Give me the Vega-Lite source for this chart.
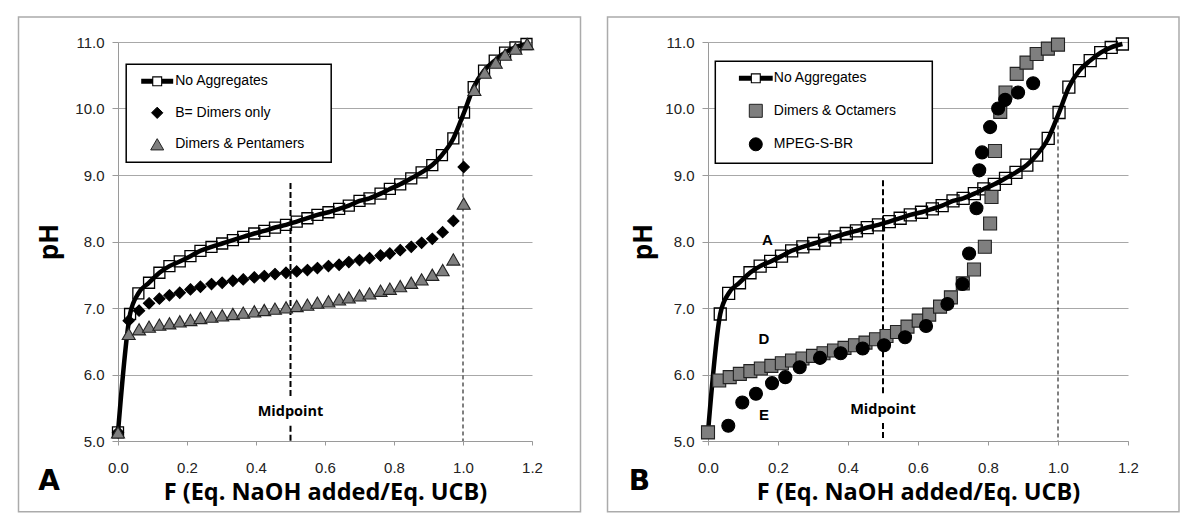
{
  "$schema": "https://vega.github.io/schema/vega-lite/v6.json",
  "padding": {"left": 17, "top": 16, "right": 5, "bottom": 5},
  "background": "white",
  "config": {"view": {"stroke": null}, "font": "Liberation Sans", "legend": {"strokeWidth": 1.5}},
  "spacing": 176,
  "bounds": "flush",
  "resolve": {"scale": {"x": "independent", "y": "independent", "shape": "independent", "fill": "independent", "stroke": "independent"}, "legend": {"shape": "independent", "fill": "independent", "stroke": "independent"}},
  "datasets": {
    "noagg": [
      {"series": "No Aggregates", "F": 0, "pH": 5.13},
      {"series": "No Aggregates", "F": 0.035, "pH": 6.91},
      {"series": "No Aggregates", "F": 0.059, "pH": 7.22},
      {"series": "No Aggregates", "F": 0.09, "pH": 7.38},
      {"series": "No Aggregates", "F": 0.12, "pH": 7.53},
      {"series": "No Aggregates", "F": 0.149, "pH": 7.63},
      {"series": "No Aggregates", "F": 0.179, "pH": 7.7},
      {"series": "No Aggregates", "F": 0.21, "pH": 7.78},
      {"series": "No Aggregates", "F": 0.239, "pH": 7.86},
      {"series": "No Aggregates", "F": 0.271, "pH": 7.92},
      {"series": "No Aggregates", "F": 0.302, "pH": 7.97},
      {"series": "No Aggregates", "F": 0.333, "pH": 8.02},
      {"series": "No Aggregates", "F": 0.363, "pH": 8.07},
      {"series": "No Aggregates", "F": 0.395, "pH": 8.12},
      {"series": "No Aggregates", "F": 0.424, "pH": 8.16},
      {"series": "No Aggregates", "F": 0.455, "pH": 8.21},
      {"series": "No Aggregates", "F": 0.487, "pH": 8.25},
      {"series": "No Aggregates", "F": 0.518, "pH": 8.3},
      {"series": "No Aggregates", "F": 0.549, "pH": 8.35},
      {"series": "No Aggregates", "F": 0.578, "pH": 8.4},
      {"series": "No Aggregates", "F": 0.61, "pH": 8.44},
      {"series": "No Aggregates", "F": 0.641, "pH": 8.49},
      {"series": "No Aggregates", "F": 0.669, "pH": 8.54},
      {"series": "No Aggregates", "F": 0.7, "pH": 8.61},
      {"series": "No Aggregates", "F": 0.729, "pH": 8.65},
      {"series": "No Aggregates", "F": 0.761, "pH": 8.72},
      {"series": "No Aggregates", "F": 0.788, "pH": 8.79},
      {"series": "No Aggregates", "F": 0.818, "pH": 8.86},
      {"series": "No Aggregates", "F": 0.85, "pH": 8.95},
      {"series": "No Aggregates", "F": 0.88, "pH": 9.04},
      {"series": "No Aggregates", "F": 0.911, "pH": 9.15},
      {"series": "No Aggregates", "F": 0.939, "pH": 9.3},
      {"series": "No Aggregates", "F": 0.972, "pH": 9.55},
      {"series": "No Aggregates", "F": 1.003, "pH": 9.94},
      {"series": "No Aggregates", "F": 1.031, "pH": 10.32},
      {"series": "No Aggregates", "F": 1.061, "pH": 10.57},
      {"series": "No Aggregates", "F": 1.092, "pH": 10.72},
      {"series": "No Aggregates", "F": 1.122, "pH": 10.84},
      {"series": "No Aggregates", "F": 1.152, "pH": 10.92},
      {"series": "No Aggregates", "F": 1.184, "pH": 10.97}
    ],
    "pA": [
      {"series": "B= Dimers only", "F": 0, "pH": 5.13},
      {"series": "B= Dimers only", "F": 0.031, "pH": 6.81},
      {"series": "B= Dimers only", "F": 0.061, "pH": 6.96},
      {"series": "B= Dimers only", "F": 0.09, "pH": 7.07},
      {"series": "B= Dimers only", "F": 0.12, "pH": 7.14},
      {"series": "B= Dimers only", "F": 0.149, "pH": 7.19},
      {"series": "B= Dimers only", "F": 0.179, "pH": 7.23},
      {"series": "B= Dimers only", "F": 0.21, "pH": 7.28},
      {"series": "B= Dimers only", "F": 0.239, "pH": 7.32},
      {"series": "B= Dimers only", "F": 0.271, "pH": 7.36},
      {"series": "B= Dimers only", "F": 0.302, "pH": 7.38},
      {"series": "B= Dimers only", "F": 0.333, "pH": 7.41},
      {"series": "B= Dimers only", "F": 0.363, "pH": 7.43},
      {"series": "B= Dimers only", "F": 0.395, "pH": 7.46},
      {"series": "B= Dimers only", "F": 0.424, "pH": 7.48},
      {"series": "B= Dimers only", "F": 0.455, "pH": 7.51},
      {"series": "B= Dimers only", "F": 0.487, "pH": 7.53},
      {"series": "B= Dimers only", "F": 0.518, "pH": 7.55},
      {"series": "B= Dimers only", "F": 0.549, "pH": 7.57},
      {"series": "B= Dimers only", "F": 0.578, "pH": 7.6},
      {"series": "B= Dimers only", "F": 0.61, "pH": 7.63},
      {"series": "B= Dimers only", "F": 0.641, "pH": 7.65},
      {"series": "B= Dimers only", "F": 0.669, "pH": 7.69},
      {"series": "B= Dimers only", "F": 0.7, "pH": 7.72},
      {"series": "B= Dimers only", "F": 0.729, "pH": 7.75},
      {"series": "B= Dimers only", "F": 0.761, "pH": 7.79},
      {"series": "B= Dimers only", "F": 0.788, "pH": 7.82},
      {"series": "B= Dimers only", "F": 0.818, "pH": 7.87},
      {"series": "B= Dimers only", "F": 0.85, "pH": 7.92},
      {"series": "B= Dimers only", "F": 0.88, "pH": 7.98},
      {"series": "B= Dimers only", "F": 0.911, "pH": 8.04},
      {"series": "B= Dimers only", "F": 0.941, "pH": 8.14},
      {"series": "B= Dimers only", "F": 0.972, "pH": 8.31},
      {"series": "B= Dimers only", "F": 1.002, "pH": 9.12},
      {"series": "Dimers & Pentamers", "F": 0, "pH": 5.13},
      {"series": "Dimers & Pentamers", "F": 0.031, "pH": 6.61},
      {"series": "Dimers & Pentamers", "F": 0.061, "pH": 6.68},
      {"series": "Dimers & Pentamers", "F": 0.09, "pH": 6.72},
      {"series": "Dimers & Pentamers", "F": 0.12, "pH": 6.75},
      {"series": "Dimers & Pentamers", "F": 0.149, "pH": 6.77},
      {"series": "Dimers & Pentamers", "F": 0.179, "pH": 6.8},
      {"series": "Dimers & Pentamers", "F": 0.21, "pH": 6.82},
      {"series": "Dimers & Pentamers", "F": 0.239, "pH": 6.85},
      {"series": "Dimers & Pentamers", "F": 0.271, "pH": 6.87},
      {"series": "Dimers & Pentamers", "F": 0.302, "pH": 6.89},
      {"series": "Dimers & Pentamers", "F": 0.333, "pH": 6.91},
      {"series": "Dimers & Pentamers", "F": 0.363, "pH": 6.93},
      {"series": "Dimers & Pentamers", "F": 0.395, "pH": 6.95},
      {"series": "Dimers & Pentamers", "F": 0.424, "pH": 6.97},
      {"series": "Dimers & Pentamers", "F": 0.455, "pH": 6.99},
      {"series": "Dimers & Pentamers", "F": 0.487, "pH": 7.01},
      {"series": "Dimers & Pentamers", "F": 0.518, "pH": 7.03},
      {"series": "Dimers & Pentamers", "F": 0.549, "pH": 7.05},
      {"series": "Dimers & Pentamers", "F": 0.578, "pH": 7.08},
      {"series": "Dimers & Pentamers", "F": 0.61, "pH": 7.1},
      {"series": "Dimers & Pentamers", "F": 0.641, "pH": 7.13},
      {"series": "Dimers & Pentamers", "F": 0.669, "pH": 7.16},
      {"series": "Dimers & Pentamers", "F": 0.7, "pH": 7.19},
      {"series": "Dimers & Pentamers", "F": 0.729, "pH": 7.22},
      {"series": "Dimers & Pentamers", "F": 0.761, "pH": 7.26},
      {"series": "Dimers & Pentamers", "F": 0.788, "pH": 7.29},
      {"series": "Dimers & Pentamers", "F": 0.818, "pH": 7.33},
      {"series": "Dimers & Pentamers", "F": 0.85, "pH": 7.38},
      {"series": "Dimers & Pentamers", "F": 0.88, "pH": 7.43},
      {"series": "Dimers & Pentamers", "F": 0.911, "pH": 7.5},
      {"series": "Dimers & Pentamers", "F": 0.941, "pH": 7.57},
      {"series": "Dimers & Pentamers", "F": 0.972, "pH": 7.73},
      {"series": "Dimers & Pentamers", "F": 1.002, "pH": 8.57},
      {"series": "Dimers & Pentamers", "F": 1.033, "pH": 10.28},
      {"series": "Dimers & Pentamers", "F": 1.063, "pH": 10.54},
      {"series": "Dimers & Pentamers", "F": 1.095, "pH": 10.69},
      {"series": "Dimers & Pentamers", "F": 1.122, "pH": 10.81},
      {"series": "Dimers & Pentamers", "F": 1.152, "pH": 10.9},
      {"series": "Dimers & Pentamers", "F": 1.186, "pH": 10.97}
    ],
    "pB": [
      {"series": "Dimers & Octamers", "F": 0, "pH": 5.13},
      {"series": "Dimers & Octamers", "F": 0.032, "pH": 5.91},
      {"series": "Dimers & Octamers", "F": 0.062, "pH": 5.96},
      {"series": "Dimers & Octamers", "F": 0.091, "pH": 6.01},
      {"series": "Dimers & Octamers", "F": 0.121, "pH": 6.05},
      {"series": "Dimers & Octamers", "F": 0.151, "pH": 6.09},
      {"series": "Dimers & Octamers", "F": 0.181, "pH": 6.13},
      {"series": "Dimers & Octamers", "F": 0.211, "pH": 6.17},
      {"series": "Dimers & Octamers", "F": 0.24, "pH": 6.21},
      {"series": "Dimers & Octamers", "F": 0.27, "pH": 6.24},
      {"series": "Dimers & Octamers", "F": 0.3, "pH": 6.28},
      {"series": "Dimers & Octamers", "F": 0.33, "pH": 6.32},
      {"series": "Dimers & Octamers", "F": 0.36, "pH": 6.36},
      {"series": "Dimers & Octamers", "F": 0.39, "pH": 6.4},
      {"series": "Dimers & Octamers", "F": 0.42, "pH": 6.44},
      {"series": "Dimers & Octamers", "F": 0.45, "pH": 6.48},
      {"series": "Dimers & Octamers", "F": 0.48, "pH": 6.53},
      {"series": "Dimers & Octamers", "F": 0.51, "pH": 6.58},
      {"series": "Dimers & Octamers", "F": 0.54, "pH": 6.64},
      {"series": "Dimers & Octamers", "F": 0.57, "pH": 6.72},
      {"series": "Dimers & Octamers", "F": 0.602, "pH": 6.81},
      {"series": "Dimers & Octamers", "F": 0.632, "pH": 6.9},
      {"series": "Dimers & Octamers", "F": 0.663, "pH": 7.02},
      {"series": "Dimers & Octamers", "F": 0.694, "pH": 7.16},
      {"series": "Dimers & Octamers", "F": 0.728, "pH": 7.37},
      {"series": "Dimers & Octamers", "F": 0.76, "pH": 7.58},
      {"series": "Dimers & Octamers", "F": 0.791, "pH": 7.92},
      {"series": "Dimers & Octamers", "F": 0.806, "pH": 8.27},
      {"series": "Dimers & Octamers", "F": 0.81, "pH": 8.67},
      {"series": "Dimers & Octamers", "F": 0.82, "pH": 9.36},
      {"series": "Dimers & Octamers", "F": 0.835, "pH": 9.95},
      {"series": "Dimers & Octamers", "F": 0.85, "pH": 10.24},
      {"series": "Dimers & Octamers", "F": 0.882, "pH": 10.52},
      {"series": "Dimers & Octamers", "F": 0.91, "pH": 10.69},
      {"series": "Dimers & Octamers", "F": 0.939, "pH": 10.82},
      {"series": "Dimers & Octamers", "F": 0.971, "pH": 10.9},
      {"series": "Dimers & Octamers", "F": 1.0, "pH": 10.96},
      {"series": "MPEG-S-BR", "F": 0.058, "pH": 5.23},
      {"series": "MPEG-S-BR", "F": 0.098, "pH": 5.58},
      {"series": "MPEG-S-BR", "F": 0.137, "pH": 5.71},
      {"series": "MPEG-S-BR", "F": 0.183, "pH": 5.87},
      {"series": "MPEG-S-BR", "F": 0.221, "pH": 5.96},
      {"series": "MPEG-S-BR", "F": 0.262, "pH": 6.11},
      {"series": "MPEG-S-BR", "F": 0.32, "pH": 6.25},
      {"series": "MPEG-S-BR", "F": 0.379, "pH": 6.32},
      {"series": "MPEG-S-BR", "F": 0.442, "pH": 6.39},
      {"series": "MPEG-S-BR", "F": 0.503, "pH": 6.44},
      {"series": "MPEG-S-BR", "F": 0.563, "pH": 6.56},
      {"series": "MPEG-S-BR", "F": 0.623, "pH": 6.73},
      {"series": "MPEG-S-BR", "F": 0.684, "pH": 7.06},
      {"series": "MPEG-S-BR", "F": 0.727, "pH": 7.36},
      {"series": "MPEG-S-BR", "F": 0.746, "pH": 7.82},
      {"series": "MPEG-S-BR", "F": 0.767, "pH": 8.5},
      {"series": "MPEG-S-BR", "F": 0.775, "pH": 9.07},
      {"series": "MPEG-S-BR", "F": 0.783, "pH": 9.34},
      {"series": "MPEG-S-BR", "F": 0.806, "pH": 9.72},
      {"series": "MPEG-S-BR", "F": 0.829, "pH": 10.0},
      {"series": "MPEG-S-BR", "F": 0.849, "pH": 10.13},
      {"series": "MPEG-S-BR", "F": 0.886, "pH": 10.24},
      {"series": "MPEG-S-BR", "F": 0.929, "pH": 10.38}
    ]
  },
  "hconcat": [
    {
      "width": 414,
      "height": 399,
      "layer": [
        {
          "data": {"values": [{"panel": "A"}]},
          "mark": {"type": "rect", "filled": false, "stroke": "#ababab", "strokeWidth": 1.5},
          "encoding": {
            "x": {"datum": -0.2884, "type": "quantitative", "scale": {"domain": [0, 1.2], "nice": false, "zero": false},
              "axis": {"title": "F (Eq. NaOH added/Eq. UCB)", "titleFont": "Open Sans", "titleFontSize": 23.5, "titleFontWeight": "bold", "titleColor": "black", "titlePadding": 5,
                "values": [0, 0.1, 0.2, 0.3, 0.4, 0.5, 0.6, 0.7, 0.8, 0.9, 1.0, 1.1, 1.2],
                "labelExpr": "round(datum.value * 10) % 2 === 0 ? format(datum.value, '.1f') : ''",
                "labelFont": "Liberation Sans", "labelFontSize": 15, "labelColor": "#222", "labelPadding": 15, "labelFlush": false, "labelOverlap": false,
                "tickSize": 4, "tickColor": "#9a9a9a", "domainColor": "#9a9a9a", "grid": false}},
            "x2": {"datum": 1.3406},
            "y": {"datum": 11.376, "type": "quantitative", "scale": {"domain": [5, 11], "nice": false, "zero": false},
              "axis": {"title": "pH", "titleFont": "Open Sans", "titleFontSize": 26, "titleFontWeight": "bold", "titleColor": "black", "titlePadding": 12,
                "values": [5, 5.5, 6, 6.5, 7, 7.5, 8, 8.5, 9, 9.5, 10, 10.5, 11],
                "labelExpr": "datum.value % 1 === 0 ? format(datum.value, '.1f') : ''",
                "labelFont": "Liberation Sans", "labelFontSize": 15, "labelColor": "#222", "labelPadding": 8, "labelFlush": false, "labelOverlap": false,
                "tickSize": 6, "tickColor": "#9a9a9a", "domainColor": "#9a9a9a", "grid": true, "gridColor": "#a8a8a8",
                "gridOpacity": {"condition": {"test": "datum.value % 1 === 0", "value": 1}, "value": 0}}},
            "y2": {"datum": 3.937}
          }
        },
        {
          "data": {"values": [
            {"x": 0.5, "y1": 8.88, "y2": 5.67},
            {"x": 0.5, "y1": 5.23, "y2": 5.0}
          ]},
          "mark": {"type": "rule", "color": "black", "strokeWidth": 2, "strokeDash": [6, 3]},
          "encoding": {
            "x": {"field": "x", "type": "quantitative", "scale": {"domain": [0, 1.2]}},
            "y": {"field": "y1", "type": "quantitative", "scale": {"domain": [5, 11]}},
            "y2": {"field": "y2"}
          }
        },
        {
          "data": {"values": [{"x": 1.0, "y1": 9.88, "y2": 5.0}]},
          "mark": {"type": "rule", "color": "black", "strokeWidth": 1, "strokeDash": [4, 3]},
          "encoding": {
            "x": {"field": "x", "type": "quantitative", "scale": {"domain": [0, 1.2]}},
            "y": {"field": "y1", "type": "quantitative", "scale": {"domain": [5, 11]}},
            "y2": {"field": "y2"}
          }
        },
        {
          "data": {"name": "noagg"},
          "mark": {"type": "line", "color": "black", "strokeWidth": 4.5, "interpolate": "monotone"},
          "encoding": {
            "x": {"field": "F", "type": "quantitative", "scale": {"domain": [0, 1.2]}},
            "y": {"field": "pH", "type": "quantitative", "scale": {"domain": [5, 11]}}
          }
        },
        {
          "data": {"name": "noagg"},
          "mark": {"type": "point", "shape": "square", "filled": false, "stroke": "black", "strokeWidth": 1.3, "size": 121, "opacity": 1},
          "encoding": {
            "x": {"field": "F", "type": "quantitative", "scale": {"domain": [0, 1.2]}},
            "y": {"field": "pH", "type": "quantitative", "scale": {"domain": [5, 11]}}
          }
        },
        {
          "data": {"name": "pA"},
          "mark": {"type": "point", "size": 169, "strokeWidth": 1.1, "opacity": 1},
          "encoding": {
            "x": {"field": "F", "type": "quantitative", "scale": {"domain": [0, 1.2]}},
            "y": {"field": "pH", "type": "quantitative", "scale": {"domain": [5, 11]}},
            "shape": {"field": "series", "type": "nominal",
              "scale": {"domain": ["No Aggregates", "B= Dimers only", "Dimers & Pentamers"],
                "range": ["M-2.46,-0.38H-0.77V0.38H-2.46Z M0.77,-0.38H2.46V0.38H0.77Z M-0.77,-0.77H0.77V0.77H-0.77Z M-0.6,-0.6V0.6H0.6V-0.6Z", "M0,-0.87L0.87,0L0,0.87L-0.87,0Z", "triangle-up"]},
              "legend": {"orient": "none", "legendX": 8.2, "legendY": 22.3, "title": "\u00a0", "titleOrient": "right", "titleFontSize": 4, "titlePadding": 17,
                "strokeColor": "black", "fillColor": "white", "padding": 10,
                "symbolSize": 169, "symbolStrokeWidth": 1, "symbolOffset": 14, "labelOffset": 11, "rowPadding": 15.5,
                "labelFont": "Liberation Sans", "labelFontSize": 14, "labelColor": "black", "labelLimit": 400}},
            "fill": {"field": "series", "type": "nominal",
              "scale": {"domain": ["No Aggregates", "B= Dimers only", "Dimers & Pentamers"], "range": ["black", "black", "#7f7f7f"]},
              "legend": {"orient": "none", "legendX": 8.2, "legendY": 22.3, "title": "\u00a0", "titleOrient": "right", "titleFontSize": 4, "titlePadding": 17,
                "strokeColor": "black", "fillColor": "white", "padding": 10,
                "symbolSize": 169, "symbolStrokeWidth": 1, "symbolOffset": 14, "labelOffset": 11, "rowPadding": 15.5,
                "labelFont": "Liberation Sans", "labelFontSize": 14, "labelColor": "black", "labelLimit": 400}},
            "stroke": {"field": "series", "type": "nominal",
              "scale": {"domain": ["No Aggregates", "B= Dimers only", "Dimers & Pentamers"], "range": ["transparent", "black", "#222222"]},
              "legend": {"orient": "none", "legendX": 8.2, "legendY": 22.3, "title": "\u00a0", "titleOrient": "right", "titleFontSize": 4, "titlePadding": 17,
                "strokeColor": "black", "fillColor": "white", "padding": 10,
                "symbolSize": 169, "symbolStrokeWidth": 1, "symbolOffset": 14, "labelOffset": 11, "rowPadding": 15.5,
                "labelFont": "Liberation Sans", "labelFontSize": 14, "labelColor": "black", "labelLimit": 400}}
          }
        },
        {
          "data": {"values": [{"label": "Midpoint", "F": 0.5, "pH": 5.44}]},
          "mark": {"type": "text", "font": "Open Sans", "fontWeight": "bold", "fontSize": 14.5, "color": "black", "align": "center", "baseline": "middle"},
          "encoding": {
            "x": {"field": "F", "type": "quantitative", "scale": {"domain": [0, 1.2]}},
            "y": {"field": "pH", "type": "quantitative", "scale": {"domain": [5, 11]}},
            "text": {"field": "label"}
          }
        },
        {
          "data": {"values": [{"label": "A"}]},
          "mark": {"type": "text", "font": "DejaVu Sans", "fontWeight": "bold", "fontSize": 28, "color": "black", "align": "center", "baseline": "middle"},
          "encoding": {
            "x": {"datum": -0.2, "type": "quantitative", "scale": {"domain": [0, 1.2]}},
            "y": {"datum": 4.376, "type": "quantitative", "scale": {"domain": [5, 11]}},
            "text": {"field": "label"}
          }
        }
      ]
    },
    {
      "width": 420,
      "height": 399,
      "layer": [
        {
          "data": {"values": [{"panel": "B"}]},
          "mark": {"type": "rect", "filled": false, "stroke": "#ababab", "strokeWidth": 1.5},
          "encoding": {
            "x": {"datum": -0.2871, "type": "quantitative", "scale": {"domain": [0, 1.2], "nice": false, "zero": false},
              "axis": {"title": "F (Eq. NaOH added/Eq. UCB)", "titleFont": "Open Sans", "titleFontSize": 23.5, "titleFontWeight": "bold", "titleColor": "black", "titlePadding": 5,
                "values": [0, 0.1, 0.2, 0.3, 0.4, 0.5, 0.6, 0.7, 0.8, 0.9, 1.0, 1.1, 1.2],
                "labelExpr": "round(datum.value * 10) % 2 === 0 ? format(datum.value, '.1f') : ''",
                "labelFont": "Liberation Sans", "labelFontSize": 15, "labelColor": "#222", "labelPadding": 15, "labelFlush": false, "labelOverlap": false,
                "tickSize": 4, "tickColor": "#9a9a9a", "domainColor": "#9a9a9a", "grid": false}},
            "x2": {"datum": 1.3457},
            "y": {"datum": 11.376, "type": "quantitative", "scale": {"domain": [5, 11], "nice": false, "zero": false},
              "axis": {"title": "pH", "titleFont": "Open Sans", "titleFontSize": 26, "titleFontWeight": "bold", "titleColor": "black", "titlePadding": 8,
                "values": [5, 5.5, 6, 6.5, 7, 7.5, 8, 8.5, 9, 9.5, 10, 10.5, 11],
                "labelExpr": "datum.value % 1 === 0 ? format(datum.value, '.1f') : ''",
                "labelFont": "Liberation Sans", "labelFontSize": 15, "labelColor": "#222", "labelPadding": 8, "labelFlush": false, "labelOverlap": false,
                "tickSize": 6, "tickColor": "#9a9a9a", "domainColor": "#9a9a9a", "grid": true, "gridColor": "#a8a8a8",
                "gridOpacity": {"condition": {"test": "datum.value % 1 === 0", "value": 1}, "value": 0}}},
            "y2": {"datum": 3.937}
          }
        },
        {
          "data": {"values": [
            {"x": 0.5, "y1": 8.92, "y2": 5.69},
            {"x": 0.5, "y1": 5.27, "y2": 5.0}
          ]},
          "mark": {"type": "rule", "color": "black", "strokeWidth": 2, "strokeDash": [6, 3]},
          "encoding": {
            "x": {"field": "x", "type": "quantitative", "scale": {"domain": [0, 1.2]}},
            "y": {"field": "y1", "type": "quantitative", "scale": {"domain": [5, 11]}},
            "y2": {"field": "y2"}
          }
        },
        {
          "data": {"values": [{"x": 1.0, "y1": 9.85, "y2": 5.0}]},
          "mark": {"type": "rule", "color": "black", "strokeWidth": 1, "strokeDash": [4, 3]},
          "encoding": {
            "x": {"field": "x", "type": "quantitative", "scale": {"domain": [0, 1.2]}},
            "y": {"field": "y1", "type": "quantitative", "scale": {"domain": [5, 11]}},
            "y2": {"field": "y2"}
          }
        },
        {
          "data": {"name": "noagg"},
          "mark": {"type": "line", "color": "black", "strokeWidth": 4.5, "interpolate": "monotone"},
          "encoding": {
            "x": {"field": "F", "type": "quantitative", "scale": {"domain": [0, 1.2]}},
            "y": {"field": "pH", "type": "quantitative", "scale": {"domain": [5, 11]}}
          }
        },
        {
          "data": {"name": "noagg"},
          "mark": {"type": "point", "shape": "square", "filled": false, "stroke": "black", "strokeWidth": 1.3, "size": 144, "opacity": 1},
          "encoding": {
            "x": {"field": "F", "type": "quantitative", "scale": {"domain": [0, 1.2]}},
            "y": {"field": "pH", "type": "quantitative", "scale": {"domain": [5, 11]}}
          }
        },
        {
          "data": {"name": "pB"},
          "mark": {"type": "point", "size": 169, "strokeWidth": 1.1, "opacity": 1},
          "encoding": {
            "x": {"field": "F", "type": "quantitative", "scale": {"domain": [0, 1.2]}},
            "y": {"field": "pH", "type": "quantitative", "scale": {"domain": [5, 11]}},
            "shape": {"field": "series", "type": "nominal",
              "scale": {"domain": ["No Aggregates", "Dimers & Octamers", "MPEG-S-BR"],
                "range": ["M-2.6,-0.38H-0.77V0.38H-2.6Z M0.77,-0.38H2.6V0.38H0.77Z M-0.77,-0.77H0.77V0.77H-0.77Z M-0.6,-0.6V0.6H0.6V-0.6Z", "square", "circle"]},
              "legend": {"orient": "none", "legendX": 7.3, "legendY": 19.3, "title": "\u00a0", "titleOrient": "right", "titleFontSize": 4, "titlePadding": 26,
                "strokeColor": "black", "fillColor": "white", "padding": 10,
                "symbolSize": 169, "symbolStrokeWidth": 1, "symbolOffset": 23.5, "labelOffset": 11, "rowPadding": 15.5,
                "labelFont": "Liberation Sans", "labelFontSize": 14, "labelColor": "black", "labelLimit": 400}},
            "fill": {"field": "series", "type": "nominal",
              "scale": {"domain": ["No Aggregates", "Dimers & Octamers", "MPEG-S-BR"], "range": ["black", "#7f7f7f", "black"]},
              "legend": {"orient": "none", "legendX": 7.3, "legendY": 19.3, "title": "\u00a0", "titleOrient": "right", "titleFontSize": 4, "titlePadding": 26,
                "strokeColor": "black", "fillColor": "white", "padding": 10,
                "symbolSize": 169, "symbolStrokeWidth": 1, "symbolOffset": 23.5, "labelOffset": 11, "rowPadding": 15.5,
                "labelFont": "Liberation Sans", "labelFontSize": 14, "labelColor": "black", "labelLimit": 400}},
            "stroke": {"field": "series", "type": "nominal",
              "scale": {"domain": ["No Aggregates", "Dimers & Octamers", "MPEG-S-BR"], "range": ["transparent", "#222222", "black"]},
              "legend": {"orient": "none", "legendX": 7.3, "legendY": 19.3, "title": "\u00a0", "titleOrient": "right", "titleFontSize": 4, "titlePadding": 26,
                "strokeColor": "black", "fillColor": "white", "padding": 10,
                "symbolSize": 169, "symbolStrokeWidth": 1, "symbolOffset": 23.5, "labelOffset": 11, "rowPadding": 15.5,
                "labelFont": "Liberation Sans", "labelFontSize": 14, "labelColor": "black", "labelLimit": 400}}
          }
        },
        {
          "data": {"values": [{"label": "Midpoint", "F": 0.5, "pH": 5.47}]},
          "mark": {"type": "text", "font": "Open Sans", "fontWeight": "bold", "fontSize": 14.5, "color": "black", "align": "center", "baseline": "middle"},
          "encoding": {
            "x": {"field": "F", "type": "quantitative", "scale": {"domain": [0, 1.2]}},
            "y": {"field": "pH", "type": "quantitative", "scale": {"domain": [5, 11]}},
            "text": {"field": "label"}
          }
        },
        {
          "data": {"values": [
            {"label": "A", "F": 0.17, "pH": 8.03},
            {"label": "D", "F": 0.16, "pH": 6.53},
            {"label": "E", "F": 0.16, "pH": 5.39}
          ]},
          "mark": {"type": "text", "font": "Liberation Sans", "fontWeight": "bold", "fontSize": 15, "color": "black", "align": "center", "baseline": "middle"},
          "encoding": {
            "x": {"field": "F", "type": "quantitative", "scale": {"domain": [0, 1.2]}},
            "y": {"field": "pH", "type": "quantitative", "scale": {"domain": [5, 11]}},
            "text": {"field": "label"}
          }
        },
        {
          "data": {"values": [{"label": "B"}]},
          "mark": {"type": "text", "font": "DejaVu Sans", "fontWeight": "bold", "fontSize": 28, "color": "black", "align": "center", "baseline": "middle"},
          "encoding": {
            "x": {"datum": -0.1957, "type": "quantitative", "scale": {"domain": [0, 1.2]}},
            "y": {"datum": 4.376, "type": "quantitative", "scale": {"domain": [5, 11]}},
            "text": {"field": "label"}
          }
        }
      ]
    }
  ]
}
